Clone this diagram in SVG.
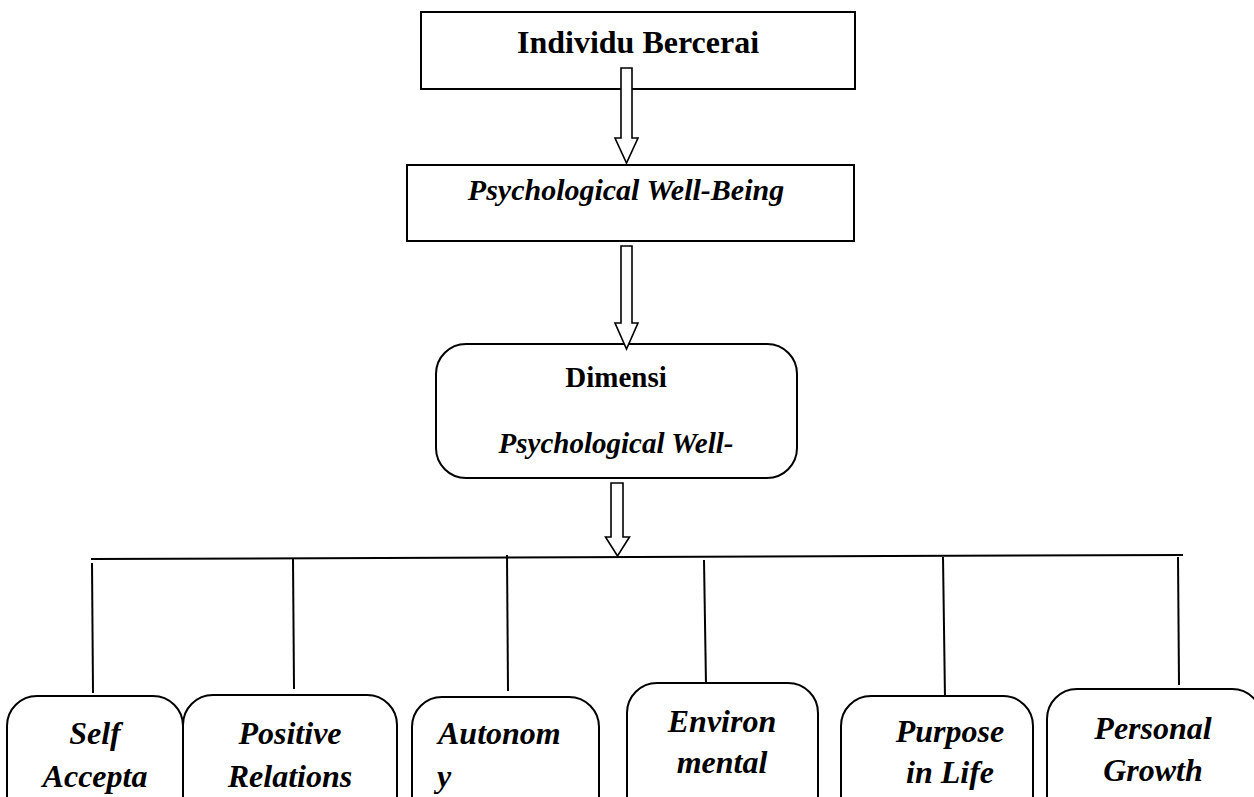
<svg xmlns="http://www.w3.org/2000/svg" width="1254" height="797" viewBox="0 0 1254 797">
<style>
.box{fill:#fff;stroke:#000;stroke-width:2}
.arr{fill:#fff;stroke:#000;stroke-width:1.6;stroke-linejoin:miter}
.ln{stroke:#000;stroke-width:2;fill:none}
text{font-family:"Liberation Serif","Times New Roman",serif;font-weight:bold;fill:#000}
.c{text-anchor:middle}
.i{font-style:italic}
</style>
<rect width="1254" height="797" fill="#fff"/>
<g id="n1">
<rect class="box" x="421" y="12" width="434" height="77"/>
<text class="c" x="638" y="53" font-size="32">Individu Bercerai</text>
</g>
<g id="n2">
<rect class="box" x="407" y="165" width="447" height="76"/>
<text class="c i" x="626" y="200" font-size="30">Psychological Well-Being</text>
</g>
<g id="n3">
<rect class="box" x="436" y="344" width="361" height="134" rx="30" ry="30"/>
<text class="c" x="616" y="387" font-size="29">Dimensi</text>
<text class="c i" x="616" y="453" font-size="29">Psychological Well-</text>
</g>
<g id="connectors">
<polygon class="arr" points="621,68 632,68 632,138 638,138 626.5,163 615,138 621,138"/>
<polygon class="arr" points="621,246 632,246 632,323 638,323 626.5,349 615,323 621,323"/>
<polygon class="arr" points="611,483 623,483 623,537 629.5,537 617.5,556 605.5,537 611,537"/>
<line class="ln" x1="91" y1="559" x2="1183" y2="555"/>
<line class="ln" x1="92" y1="563" x2="93" y2="693"/>
<line class="ln" x1="293" y1="559" x2="294" y2="689"/>
<line class="ln" x1="507" y1="555" x2="508" y2="691"/>
<line class="ln" x1="704" y1="560" x2="706" y2="685"/>
<line class="ln" x1="943" y1="557" x2="945" y2="699"/>
<line class="ln" x1="1178" y1="557" x2="1179" y2="685"/>
</g>
<g id="b1">
<rect class="box" x="7" y="696" width="176" height="140" rx="30" ry="30"/>
<text class="c i" x="95" y="744" font-size="32">Self</text>
<text class="c i" x="95" y="787" font-size="32">Accepta</text>
</g>
<g id="b2">
<rect class="box" x="183" y="695" width="214" height="140" rx="30" ry="30"/>
<text class="c i" x="290" y="744" font-size="32">Positive</text>
<text class="c i" x="290" y="787" font-size="32">Relations</text>
</g>
<g id="b3">
<rect class="box" x="412" y="697" width="187" height="140" rx="30" ry="30"/>
<text class="i" x="438" y="744" font-size="32">Autonom</text>
<text class="i" x="437" y="787" font-size="32">y</text>
</g>
<g id="b4">
<rect class="box" x="627" y="683" width="191" height="150" rx="30" ry="30"/>
<text class="c i" x="722" y="732" font-size="32">Environ</text>
<text class="c i" x="722" y="773" font-size="32">mental</text>
</g>
<g id="b5">
<rect class="box" x="841" y="696" width="192" height="140" rx="30" ry="30"/>
<text class="c i" x="950" y="742" font-size="32">Purpose</text>
<text class="c i" x="950" y="783" font-size="32">in Life</text>
</g>
<g id="b6">
<rect class="box" x="1047" y="689" width="215" height="150" rx="30" ry="30"/>
<text class="c i" x="1153" y="739" font-size="32">Personal</text>
<text class="c i" x="1153" y="781" font-size="32">Growth</text>
</g>
</svg>
